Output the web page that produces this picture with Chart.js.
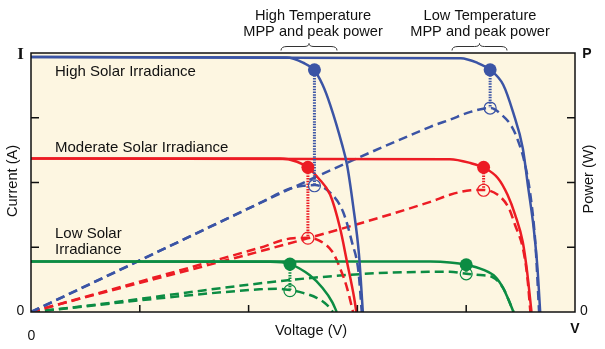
<!DOCTYPE html>
<html>
<head>
<meta charset="utf-8">
<title>Solar panel I-V and P-V curves</title>
<script src="https://cdn.jsdelivr.net/npm/chart.js@4.4.0/dist/chart.umd.min.js"></script>
<style>
  body { margin: 0; background: #fff; }
  canvas { display: block; }
</style>
</head>
<body>
<canvas id="pvChart" width="605" height="349"></canvas>
<script>
// tick marks only, the axes carry no numbers
const voltTicks = [10, 20, 30, 40];
const ampTicks = [10, 20, 30];

// I-V curves, [voltage, current]  (hot = high temperature, cold = low temperature)
const blueHotIV = [[0, 39.4], [23.5, 39.3], [25.0, 38.5], [26.0, 37.4], [26.8, 35.1], [27.5, 32.0], [28.6, 25.8], [29.05, 22.7], [29.6, 16.5], [30.15, 8.8], [30.5, 0]];
const blueColdIV = [[0, 39.4], [39.5, 39.2], [41.0, 38.5], [42.2, 37.4], [43.4, 35.1], [44.3, 30.9], [45.2, 25.3], [45.7, 19.2], [46.2, 13.0], [46.55, 6.8], [46.8, 0]];
const redHotIV = [[0, 23.7], [22.9, 23.7], [24.45, 23.2], [25.45, 22.3], [26.4, 20.7], [27.5, 18.1], [28.4, 13.0], [29.05, 7.7], [29.7, 2.2], [29.9, 0]];
const redColdIV = [[0, 23.7], [38.5, 23.6], [40.4, 23.0], [41.6, 22.3], [42.9, 20.7], [43.8, 18.1], [44.5, 15.0], [45.2, 10.8], [45.6, 6.2], [46.0, 0]];
const greenHotIV = [[0, 7.8], [22.0, 7.75], [23.8, 7.4], [25.6, 5.7], [26.8, 3.7], [27.7, 1.5], [28.1, 0]];
const greenColdIV = [[0, 7.8], [36.7, 7.78], [38.5, 7.65], [40.0, 7.3], [41.6, 6.5], [42.7, 5.4], [43.4, 3.7], [43.9, 1.85], [44.35, 0]];

// P-V curves, [voltage, power]
const blueHotPV = [[0, 0], [21.0, 16.8], [23.7, 19.0], [25.0, 19.5], [26.1, 19.6], [27.7, 18.1], [28.7, 15.4], [29.5, 10.8], [30.1, 6.2], [30.4, 0]];
const blueColdPV = [[0, 0], [36.7, 28.6], [38.5, 29.7], [40.4, 30.9], [42.2, 31.5], [43.3, 30.4], [44.2, 28.6], [44.8, 26.3], [45.35, 23.2], [45.9, 18.1], [46.35, 10.8], [46.7, 0]];
const redHotPV = [[0, 0], [21.0, 9.9], [24.1, 11.4], [25.45, 11.45], [26.4, 11.1], [27.7, 9.3], [28.4, 6.8], [29.05, 3.7], [29.6, 0]];
const redColdPV = [[0, 0], [36.7, 17.0], [38.5, 18.1], [40.4, 18.8], [41.6, 18.85], [42.9, 18.1], [43.9, 16.1], [44.5, 13.4], [45.2, 9.9], [45.6, 5.7], [45.9, 0]];
const greenHotPV = [[0, 0], [21.0, 3.5], [22.6, 3.6], [23.8, 3.4], [25.0, 2.95], [26.3, 2.15], [27.2, 1.1], [27.75, 0]];
const greenColdPV = [[0, 0], [36.7, 6.2], [38.5, 6.2], [40.0, 5.9], [41.3, 5.7], [42.4, 5.4], [43.4, 3.7], [43.9, 1.85], [44.35, 0]];

// maximum power points (blue, red, green) and the peak power under them
const mppHotV = [26.05, 25.45, 23.8];
const mppHotI = [37.4, 22.35, 7.4];
const peakHotP = [19.5, 11.4, 3.3];
const mppColdV = [42.2, 41.6, 40.0];
const mppColdI = [37.4, 22.35, 7.3];
const peakColdP = [31.5, 18.8, 5.9];

const colors = ['#3b54a5', '#ec1c24', '#0c8c43'];
const bgColor = '#fdf6e1';
const font = '"Liberation Sans", Arial, sans-serif';

const pts = arr => arr.map(p => ({ x: p[0], y: p[1] }));

function curve(data, color, dashed) {
  return {
    data: pts(data),
    borderColor: color,
    borderWidth: 2.5,
    borderDash: dashed ? [9, 5] : [],
    pointRadius: 0,
    cubicInterpolationMode: 'monotone',
    fill: false
  };
}

// filled dots = MPP, open circles = peak power
const mppPoints = [];
const peakPoints = [];
const connectors = [];
[[mppHotV, mppHotI, peakHotP], [mppColdV, mppColdI, peakColdP]].forEach(([v, i, p]) => {
  for (let k = 0; k < 3; k++) {
    mppPoints.push({ x: v[k], y: i[k] });
    peakPoints.push({ x: v[k], y: p[k] });
    connectors.push({
      data: [{ x: v[k], y: i[k] }, { x: v[k], y: p[k] }],
      borderColor: colors[k],
      borderWidth: 3,
      borderDash: [1.5, 1.2],
      pointRadius: 0
    });
  }
});
const markerColors = colors.concat(colors);

const datasets = [
  {
    data: mppPoints,
    showLine: false,
    pointRadius: 6.5,
    pointBorderWidth: 0,
    pointBackgroundColor: markerColors
  },
  {
    data: peakPoints,
    showLine: false,
    pointRadius: 6,
    pointBorderWidth: 1.2,
    pointBorderColor: markerColors,
    pointBackgroundColor: 'rgba(0,0,0,0)'
  },
  ...connectors,
  curve(blueHotIV, colors[0], false),
  curve(blueColdIV, colors[0], false),
  curve(redHotIV, colors[1], false),
  curve(redColdIV, colors[1], false),
  curve(greenHotIV, colors[2], false),
  curve(greenColdIV, colors[2], false),
  curve(blueHotPV, colors[0], true),
  curve(blueColdPV, colors[0], true),
  curve(redHotPV, colors[1], true),
  curve(redColdPV, colors[1], true),
  curve(greenHotPV, colors[2], true),
  curve(greenColdPV, colors[2], true)
];

// curly brace under the temperature notes
function brace(ctx, x1, x2, y) {
  const cx = (x1 + x2) / 2;
  ctx.beginPath();
  ctx.moveTo(x1, y + 4);
  ctx.quadraticCurveTo(x1, y, x1 + 6, y);
  ctx.lineTo(cx - 5, y);
  ctx.quadraticCurveTo(cx, y, cx, y - 3);
  ctx.quadraticCurveTo(cx, y, cx + 5, y);
  ctx.lineTo(x2 - 6, y);
  ctx.quadraticCurveTo(x2, y, x2, y + 4);
  ctx.stroke();
}

const decorations = {
  id: 'decorations',
  beforeDatasetsDraw(chart) {
    const { ctx, chartArea: a } = chart;
    ctx.save();
    ctx.fillStyle = bgColor;
    ctx.fillRect(a.left, a.top, a.right - a.left, a.bottom - a.top);
    ctx.restore();
  },
  afterDraw(chart) {
    const { ctx, chartArea: a, scales } = chart;
    ctx.save();

    // frame and inward ticks
    ctx.strokeStyle = '#111';
    ctx.lineWidth = 1.5;
    ctx.strokeRect(a.left, a.top, a.right - a.left, a.bottom - a.top);
    ctx.beginPath();
    voltTicks.forEach(v => {
      const x = scales.x.getPixelForValue(v);
      ctx.moveTo(x, a.bottom);
      ctx.lineTo(x, a.bottom - 7);
    });
    ampTicks.forEach(v => {
      const y = scales.y.getPixelForValue(v);
      ctx.moveTo(a.left, y);
      ctx.lineTo(a.left + 8, y);
      ctx.moveTo(a.right, y);
      ctx.lineTo(a.right - 8, y);
    });
    ctx.stroke();

    ctx.fillStyle = '#111';
    ctx.textBaseline = 'alphabetic';

    // series labels
    ctx.textAlign = 'left';
    ctx.font = '15px ' + font;
    ctx.fillText('High Solar Irradiance', 55, 76);
    ctx.fillText('Moderate Solar Irradiance', 55, 152);
    ctx.fillText('Low Solar', 55, 238);
    ctx.fillText('Irradiance', 55, 254);

    // temperature notes
    ctx.textAlign = 'center';
    ctx.font = '14.6px ' + font;
    ctx.fillText('High Temperature', 313, 20);
    ctx.fillText('MPP and peak power', 313, 36);
    ctx.fillText('Low Temperature', 480, 20);
    ctx.fillText('MPP and peak power', 480, 36);
    ctx.strokeStyle = '#333';
    ctx.lineWidth = 1;
    brace(ctx, 281, 337, 46.5);
    brace(ctx, 452, 507, 46.5);

    // axis ends
    ctx.font = 'bold 17px "Liberation Serif", "Times New Roman", serif';
    ctx.fillText('I', 20.5, 59);
    ctx.font = 'bold 14px ' + font;
    ctx.fillText('P', 587, 58);
    ctx.fillText('V', 575, 333);
    ctx.font = '14px ' + font;
    ctx.fillText('0', 20.5, 315);
    ctx.fillText('0', 31.5, 340);
    ctx.fillText('0', 584, 315);

    // axis titles
    ctx.font = '14.6px ' + font;
    ctx.fillText('Voltage (V)', 311, 335);
    ctx.textBaseline = 'middle';
    ctx.translate(12.5, 181);
    ctx.rotate(-Math.PI / 2);
    ctx.fillText('Current (A)', 0, 0);
    ctx.rotate(Math.PI / 2);
    ctx.translate(-12.5, -181);
    ctx.translate(589, 179);
    ctx.rotate(-Math.PI / 2);
    ctx.fillText('Power (W)', 0, 0);
    ctx.restore();
  }
};

const pvChart = new Chart(document.getElementById('pvChart'), {
  type: 'line',
  data: { datasets },
  options: {
    responsive: false,
    animation: false,
    events: [],
    layout: { padding: { left: 31, right: 30, top: 53, bottom: 37 } },
    scales: {
      x: { type: 'linear', min: 0, max: 50, display: false },
      y: { type: 'linear', min: 0, max: 40, display: false }
    },
    plugins: {
      legend: { display: false },
      tooltip: { enabled: false }
    }
  },
  plugins: [decorations]
});
</script>
</body>
</html>
